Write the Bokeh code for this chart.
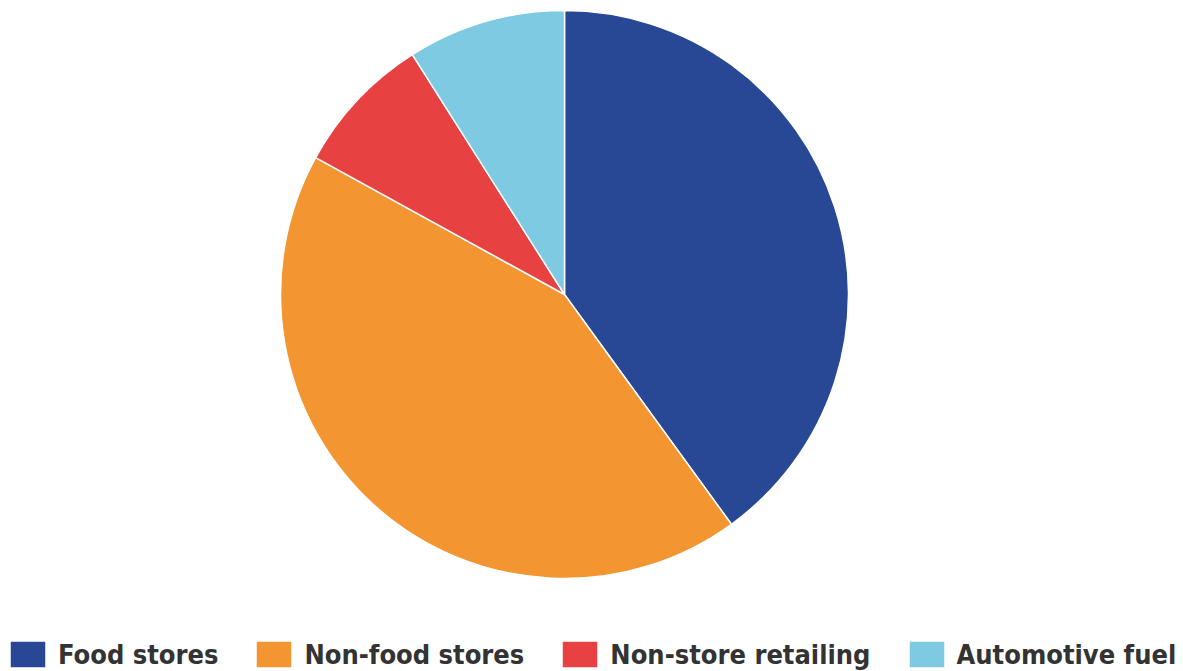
import math
from bokeh.plotting import figure
from bokeh.models import ColumnDataSource, Range1d
from bokeh.embed import file_html
from bokeh.resources import INLINE

categories = ["Food stores", "Non-food stores", "Non-store retailing", "Automotive fuel"]
shares = [40, 43, 8, 9]
colors = ["#284896", "#F39530", "#E84142", "#7ECAE2"]

total = sum(shares)
starts, ends = [], []
cum = 0.0
for s in shares:
    starts.append(math.pi / 2 - 2 * math.pi * cum / total)
    cum += s
    ends.append(math.pi / 2 - 2 * math.pi * cum / total)

src = ColumnDataSource(dict(cat=categories, share=shares, color=colors,
                            start=starts, end=ends))

W, H = 1183, 671
p = figure(width=W, height=H, output_backend="svg", toolbar_location=None,
           x_range=Range1d(0, W), y_range=Range1d(0, H),
           min_border=0, outline_line_color=None)
p.axis.visible = False
p.grid.visible = False

p.wedge(x=564, y=H - 294, radius=284, radius_units="screen",
        start_angle="start", end_angle="end", direction="clock",
        fill_color="color", line_color="white", line_width=1.5,
        source=src, legend_field="cat")

leg = p.legend[0]
leg.orientation = "horizontal"
leg.location = (5, 0)
leg.glyph_width = 45
leg.glyph_height = 34
leg.label_standoff = 8
leg.spacing = 33
leg.padding = 0
leg.margin = 0
leg.border_line_color = None
leg.background_fill_alpha = 0
leg.label_text_font = "DejaVu Sans Condensed"
leg.label_text_font_style = "bold"
leg.label_text_font_size = "27px"
leg.label_text_color = "#333333"
leg.label_height = 34

open("out.html", "w").write(file_html(p, INLINE))
